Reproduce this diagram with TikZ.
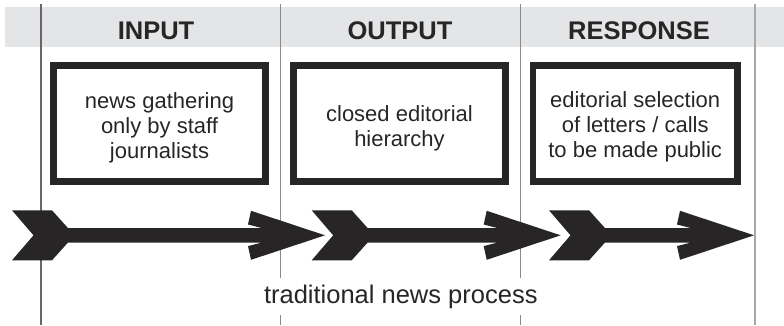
\documentclass[tikz,border=0pt]{standalone}
\usepackage{fontspec}
\setmainfont{Liberation Sans}
\definecolor{ink}{HTML}{272526}
\definecolor{band}{HTML}{E4E5E7}
\definecolor{rulegray}{HTML}{8A8A8A}
\definecolor{rulelight}{HTML}{A8A8A8}
\tikzset{
  sepline/.style={draw=rulegray, line width=1pt},
  stagebox/.style={draw=ink, line width=6.7pt, minimum height=116.4pt, inner sep=0pt},
  boxtext/.style={align=center, text=ink, font=\fontsize{22}{25}\selectfont, inner sep=0pt},
  headtext/.style={text=ink, font=\bfseries\fontsize{25.5}{28}\selectfont, inner sep=0pt, anchor=base},
  caption/.style={text=ink, fill=white, font=\fontsize{25.5}{28}\selectfont, inner xsep=2pt,
    minimum height=37pt},
  arrowfill/.style={fill=ink},
}
% tail left x, tip x, centre y
\newcommand{\procarrow}[3]{%
  \fill[arrowfill] (#1,#3-25) -- (#1+40,#3-25) -- (#1+56,#3-7.2) -- (#2-63,#3-7.2)
    -- (#2-77,#3-10.8) -- (#2-74,#3-24.5) -- (#2,#3) -- (#2-74,#3+24.5) -- (#2-77,#3+10.8)
    -- (#2-63,#3+7.2) -- (#1+56,#3+7.2) -- (#1+40,#3+25) -- (#1,#3+25) -- (#1+21.5,#3) -- cycle;}
\begin{document}
\begin{tikzpicture}[x=1pt,y=-1pt]
\useasboundingbox (0,0) rectangle (784,325);
% header band
\fill[band] (5,7) rectangle (784,47);
% column separators
\coordinate (s0t) at (41,4);  \coordinate (s0b) at (41,325);
\coordinate (s1t) at (280,4); \coordinate (s1b) at (280,325);
\coordinate (s2t) at (520,4); \coordinate (s2b) at (520,325);
\coordinate (s3t) at (755,4); \coordinate (s3b) at (755,325);
\draw[sepline, draw=ink!70, line width=1.3pt] (s0t) -- (s0b);
\draw[sepline] (s1t) -- (s1b);
\draw[sepline] (s2t) -- (s2b);
\draw[sepline, draw=rulelight, line width=2pt] (s3t) -- (s3b);
% headers
\node[headtext] (hin) at (156,39) {INPUT};
\node[headtext] (hout) at (400,39) {OUTPUT};
\node[headtext] (hresp) at (639,39) {RESPONSE};
% boxes
\node[stagebox, minimum width=212.3pt] (bin) at (159.5,123.5) {};
\node[stagebox, minimum width=212.3pt] (bout) at (399.5,123.5) {};
\node[stagebox, minimum width=204.3pt] (bresp) at (635.2,123.5) {};
\node[boxtext] (tin) at ([yshift=-4.5pt]bin.center) {news gathering\\only by staff\\journalists};
\node[boxtext] (tout) at ([yshift=-4.5pt]bout.center) {closed editorial\\hierarchy};
\node[boxtext] (tresp) at ([yshift=-3pt]bresp.center) {editorial selection\\of letters / calls\\to be made public};
% arrows
\procarrow{12}{325}{235.3}
\procarrow{311.7}{560.7}{235.3}
\procarrow{549}{754}{235.3}
% caption
\node[caption] (cap) at (400.8,296.5) {traditional news process};
\end{tikzpicture}
\end{document}
